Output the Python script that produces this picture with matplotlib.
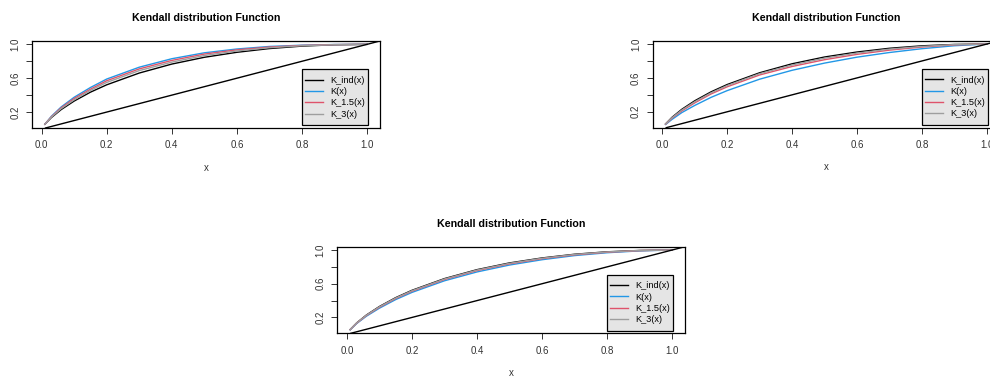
import matplotlib
matplotlib.use("Agg")
import matplotlib.pyplot as plt
from matplotlib.patches import Rectangle
import numpy as np

plt.rcParams["font.family"] = ["Liberation Sans", "DejaVu Sans"]

# values
x_grid = [0.01, 0.03, 0.06, 0.1, 0.15, 0.2, 0.3, 0.4, 0.5, 0.6, 0.7, 0.8, 0.9, 1.0]
k_ind = [0.056, 0.135, 0.229, 0.330, 0.435, 0.522, 0.661, 0.767, 0.847, 0.906, 0.950, 0.979, 0.995, 1.0]

# panel 1 (top left)
p1_k = [0.056, 0.150, 0.260, 0.375, 0.490, 0.590, 0.730, 0.830, 0.900, 0.945, 0.975, 0.990, 0.998, 1.0]
p1_k15 = [0.056, 0.145, 0.250, 0.360, 0.470, 0.570, 0.710, 0.810, 0.885, 0.935, 0.968, 0.987, 0.997, 1.0]
p1_k3 = [0.056, 0.140, 0.240, 0.345, 0.455, 0.550, 0.690, 0.790, 0.868, 0.922, 0.960, 0.984, 0.996, 1.0]

# panel 2 (top right)
p2_k = [0.050, 0.110, 0.190, 0.275, 0.370, 0.450, 0.585, 0.690, 0.775, 0.845, 0.900, 0.945, 0.980, 1.0]
p2_k15 = [0.053, 0.125, 0.210, 0.305, 0.410, 0.495, 0.635, 0.735, 0.815, 0.878, 0.928, 0.965, 0.990, 1.0]
p2_k3 = [0.055, 0.130, 0.220, 0.318, 0.423, 0.510, 0.650, 0.752, 0.833, 0.893, 0.940, 0.972, 0.993, 1.0]

# panel 3 (bottom)
p3_k = [0.054, 0.128, 0.215, 0.310, 0.412, 0.497, 0.635, 0.740, 0.822, 0.885, 0.934, 0.968, 0.990, 1.0]
p3_k15 = [0.055, 0.132, 0.223, 0.321, 0.425, 0.511, 0.650, 0.756, 0.836, 0.897, 0.943, 0.974, 0.993, 1.0]
p3_k3 = [0.056, 0.134, 0.226, 0.326, 0.430, 0.517, 0.656, 0.762, 0.842, 0.902, 0.947, 0.977, 0.994, 1.0]

labels = ["K_ind(x)", "K(x)", "K_1.5(x)", "K_3(x)"]
colors = ["black", "#2297E6", "#DF536B", "#9E9E9E"]
xticks = [0.0, 0.2, 0.4, 0.6, 0.8, 1.0]
yticks = [0.2, 0.4, 0.6, 0.8, 1.0]
ytick_labels = ["0.2", "", "0.6", "", "1.0"]


def kendall_panel(ax, series):
    ax.plot(x_grid, k_ind, c=colors[0], lw=1.0, label=labels[0])
    for ys, col, lab in zip(series, colors[1:], labels[1:]):
        ax.plot(x_grid, ys, c=col, lw=1.0, label=lab)
    ax.axline((0, 0), slope=1, c="black", lw=1.0)

    ax.set_xlim(-0.0296, 1.0396)
    ax.set_ylim(0.012, 1.0396)
    ax.set_xticks(xticks)
    ax.set_xticklabels(["%.1f" % t for t in xticks])
    ax.set_yticks(yticks)
    ax.set_yticklabels(ytick_labels, rotation=90, va="center")
    ax.tick_params(labelsize=7, length=4.5, width=0.7, pad=4.5, colors="#333333")
    ax.tick_params(axis="y", pad=4)
    for s in ax.spines.values():
        s.set_linewidth(0.9)

    ax.text(0.5, 1.265, "Kendall distribution Function", transform=ax.transAxes,
            ha="center", va="center", fontsize=7.7, fontweight="bold")
    ax.text(0.5, -0.455, "x", transform=ax.transAxes, ha="center", va="center",
            fontsize=7, color="#333333")

    # R-style legend: tight sideways, roomy top and bottom
    leg = ax.legend(loc="center right", bbox_to_anchor=(0.966, 0.353), borderaxespad=0,
                    fontsize=6.6, frameon=False, handlelength=2.0, handletextpad=0.8,
                    labelspacing=0.25, borderpad=0.3)
    return leg


fig = plt.figure(figsize=(9.9, 3.76), dpi=100)
ax1 = fig.add_axes([0.0323, 0.6596, 0.3515, 0.2314])
ax2 = fig.add_axes([0.6593, 0.6604, 0.3505, 0.2314])
ax3 = fig.add_axes([0.3407, 0.1136, 0.3512, 0.2303])

legends = []
for ax, series in [(ax1, [p1_k, p1_k15, p1_k3]),
                   (ax2, [p2_k, p2_k15, p2_k3]),
                   (ax3, [p3_k, p3_k15, p3_k3])]:
    legends.append((ax, kendall_panel(ax, series)))

fig.canvas.draw()
for ax, leg in legends:
    bb = leg.get_window_extent().transformed(ax.transAxes.inverted())
    box = Rectangle((bb.x0, 0.031), bb.x1 - bb.x0, 0.644, transform=ax.transAxes,
                    facecolor="#E5E5E5", edgecolor="black", lw=0.9, zorder=4.5)
    ax.add_patch(box)
    leg.set_zorder(5)

fig.savefig("out.png", dpi=100)
